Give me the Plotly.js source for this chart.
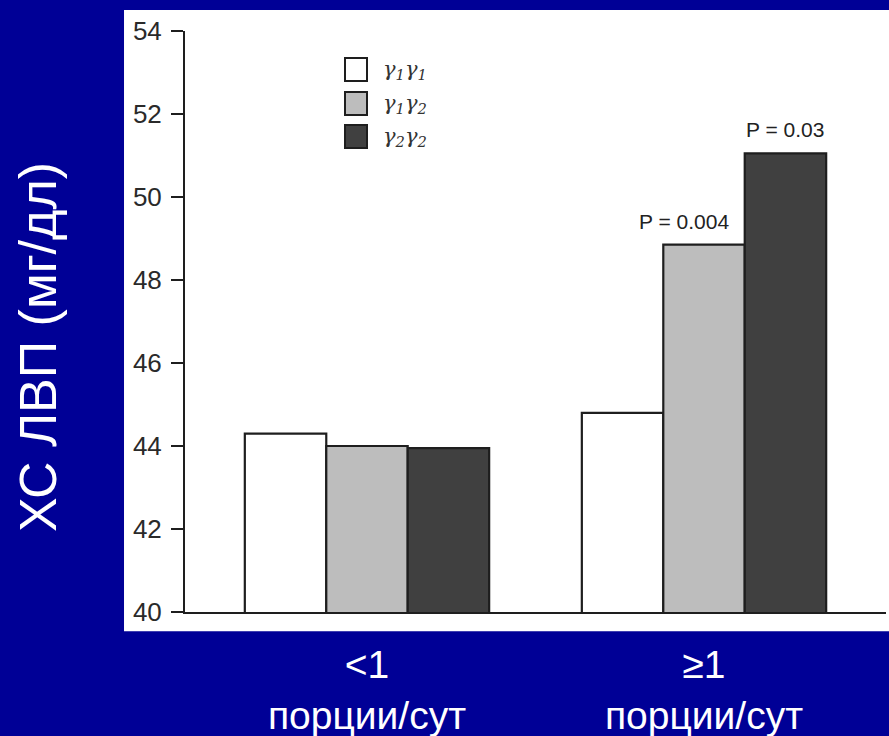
<!DOCTYPE html>
<html>
<head>
<meta charset="utf-8">
<script src="https://cdn.plot.ly/plotly-3.0.1.min.js"></script>
<style>
  html, body { margin: 0; padding: 0; background: #000096; }
  #chart { width: 889px; height: 736px; }
</style>
</head>
<body>
<div id="chart"></div>
<script>
// HDL cholesterol by genotype and daily servings
const categories = ['<1<br>порции/сут', '≥1<br>порции/сут'];
const genotypes = ['γ<sub>1</sub>γ<sub>1</sub>', 'γ<sub>1</sub>γ<sub>2</sub>', 'γ<sub>2</sub>γ<sub>2</sub>'];
const g11 = [44.3, 44.8];
const g12 = [44.0, 48.85];
const g22 = [43.95, 51.05];
const pLabels12 = ['', 'P = 0.004'];
const pLabels22 = ['', 'P = 0.03'];
const yTicks = [40, 42, 44, 46, 48, 50, 52, 54];
const yTitle = 'ХС ЛВП (мг/дл)';

const fills = ['#ffffff', '#bdbdbd', '#404040'];
const edge = '#1e1e1e';
const bargap = 0.275;
const barW = (1 - bargap) / 3;
const seriesValues = [g11, g12, g22];

// bars rise from below the 40 floor; the plot area clips them at the axis
const traces = seriesValues.map((vals, i) => ({
  type: 'bar',
  name: genotypes[i],
  x: [0, 1],
  y: vals,
  marker: { color: fills[i], line: { color: edge, width: 2.2 } },
  hoverinfo: 'skip',
  showlegend: false
}));

const annotations = [];

// p-value labels above the γ1γ2 and γ2γ2 bars
[[pLabels12, g12, 0, -20], [pLabels22, g22, barW, 0]].forEach(([labels, vals, off, shift]) => {
  labels.forEach((txt, k) => {
    if (!txt) return;
    annotations.push({
      x: k + off, y: vals[k], xref: 'x', yref: 'y',
      text: txt, showarrow: false, yanchor: 'bottom', yshift: 10, xshift: shift,
      font: { family: 'Liberation Sans, Arial, sans-serif', size: 21, color: '#222' }
    });
  });
});

const shapes = [
  // white card behind the plot
  { type: 'rect', xref: 'paper', yref: 'paper', x0: -0.087, x1: 1.01, y0: -0.033, y1: 1.036,
    fillcolor: '#ffffff', line: { width: 0 }, layer: 'below' }
];

// legend: boxes plus genotype labels
const legendTop = [58, 92, 125];
genotypes.forEach((name, i) => {
  const top = legendTop[i];
  shapes.push({
    type: 'rect', xref: 'paper', yref: 'paper',
    x0: (345 - 185) / 701, x1: (367 - 185) / 701,
    y0: (612 - top - 23) / 581, y1: (612 - top) / 581,
    fillcolor: fills[i], line: { color: edge, width: 2 }
  });
  annotations.push({
    xref: 'paper', yref: 'paper', x: (381 - 185) / 701, y: (612 - top - 12) / 581,
    xanchor: 'left', yanchor: 'middle', text: '<i>' + name + '</i>', showarrow: false,
    font: { family: 'DejaVu Serif, serif', size: 21, color: '#333' }
  });
});

annotations.push({
  xref: 'paper', yref: 'paper', x: (38 - 185) / 701, y: (612 - 347) / 581,
  xanchor: 'center', yanchor: 'middle', textangle: -90, text: yTitle, showarrow: false,
  font: { family: 'Liberation Sans, Arial, sans-serif', size: 52, color: '#ffffff' }
});

const layout = {
  width: 889, height: 736,
  margin: { l: 185, r: 3, t: 31, b: 124, pad: 0 },
  paper_bgcolor: '#000096',
  plot_bgcolor: '#ffffff',
  barmode: 'group',
  bargap: bargap,
  bargroupgap: 0,
  showlegend: false,
  xaxis: {
    type: 'linear',
    range: [-0.54, 1.54],
    tickvals: [0, 1],
    ticktext: categories,
    showline: true, linecolor: edge, linewidth: 2,
    ticks: '', showgrid: false, zeroline: false,
    ticklabelstandoff: 17,
    tickfont: { family: 'Liberation Sans, Arial, sans-serif', size: 39, color: '#ffffff' },
    fixedrange: true
  },
  yaxis: {
    range: [40, 54],
    tickvals: yTicks,
    ticktext: yTicks.map(String),
    showline: true, linecolor: edge, linewidth: 2,
    ticks: 'outside', ticklen: 12, tickwidth: 2, tickcolor: edge,
    ticklabelstandoff: 4,
    showgrid: false, zeroline: false,
    tickfont: { family: 'Liberation Sans, Arial, sans-serif', size: 26, color: '#2a2a2a' },
    fixedrange: true
  },
  shapes: shapes,
  annotations: annotations
};

Plotly.newPlot('chart', traces, layout, { staticPlot: true, displayModeBar: false });
</script>
</body>
</html>
